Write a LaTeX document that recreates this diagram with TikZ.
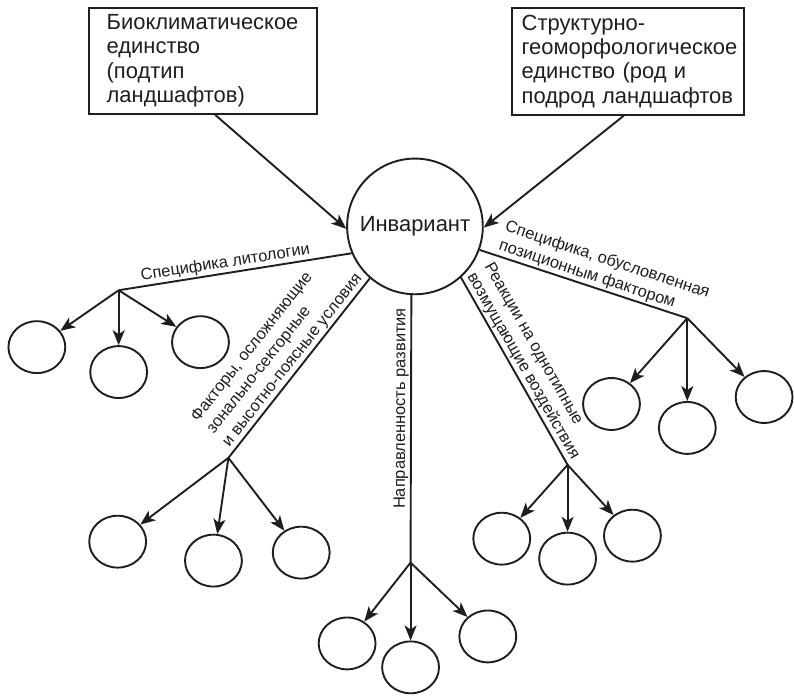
\documentclass[tikz,border=0pt]{standalone}
\usepackage{fontspec}
\setmainfont{Liberation Sans}
\usetikzlibrary{arrows.meta,shapes.geometric}
\hyphenpenalty=10000
\exhyphenpenalty=10000
\definecolor{ink}{RGB}{30,30,30}
\begin{document}
\begin{tikzpicture}[x=1pt,y=-1pt,
  every path/.style={line width=1.9pt, draw=ink},
  bigtext/.style={font=\fontsize{22}{24.3}\selectfont, text=ink},
  lbl/.style={font=\fontsize{16.5}{20}\selectfont, text=ink, inner sep=1.5pt, sloped, above},
  box/.style={draw=ink, line width=1.9pt, rectangle, anchor=north west, align=left, bigtext, inner ysep=0pt},
  small/.style={draw=ink, line width=1.9pt, ellipse, minimum width=57pt, minimum height=52pt, inner sep=0pt},
  arr/.style={-{Stealth[length=15pt,width=12pt,inset=4pt]}, line width=1.9pt},
  branch/.style={line width=1.9pt}]
\useasboundingbox (0,0) rectangle (794,695);
\fill[white] (0,0) rectangle (794,695);

\node[box, text width=193pt, inner xsep=18pt, minimum height=106pt] (b1) at (87,6)
  {Биоклиматическое\\единство\\(подтип\\ландшафтов)};
\node[box, text width=213pt, inner xsep=10pt, minimum height=107pt] (b2) at (511,6)
  {Структурно-\\геоморфологическое\\единство (род~и\\подрод~ландшафтов};

\node[circle, draw=ink, line width=1.9pt, minimum size=136pt, inner sep=0pt, bigtext] (inv) at (415,226) {Инвариант};

\draw[arr] ([xshift=12pt]b1.south) -- (inv.182);
\draw[arr] ([xshift=-4pt]b2.south) -- (inv.359);

% junctions
\coordinate (jA) at (118,290);
\coordinate (jB) at (228,458);
\coordinate (jC) at (410.6,563);
\coordinate (jD) at (568,465);
\coordinate (jE) at (688,318);

% branches
\draw[branch] (jA) -- node[lbl, pos=0.465] {Специфика литологии} (inv.203);
\draw[branch] (jB) -- node[lbl, pos=0.51, align=left] {Факторы, осложняющие\\зонально-секторные\\и высотно-поясные условия} (inv.229);
\draw[branch] (jC) -- node[lbl, pos=0.576] {Направленность развития} (inv.267);
\draw[branch] (inv.312) -- node[lbl, pos=0.5, align=left] {Реакции на однотипные\\возмущающие воздействия} (jD);
\draw[branch] (inv.340) -- node[lbl, pos=0.57, align=left] {Специфика, обусловленная\\позиционным фактором} (jE);

% small circles
\node[small] (a1) at (36,347) {};
\node[small] (a2) at (118,372) {};
\node[small] (a3) at (200,342) {};
\node[small] (c1) at (117,542) {};
\node[small] (c2) at (213,561) {};
\node[small] (c3) at (301,553) {};
\node[small] (d1) at (347,644) {};
\node[small] (d2) at (410.6,668) {};
\node[small] (d3) at (488,637) {};
\node[small] (e1) at (502,539) {};
\node[small] (e2) at (568,559) {};
\node[small] (e3) at (633,536) {};
\node[small] (f1) at (612,404) {};
\node[small] (f2) at (688,428) {};
\node[small] (f3) at (765,397) {};

\foreach \j/\g in {jA/a, jB/c, jC/d, jD/e, jE/f}{
  \draw[arr] (\j) -- (\g1);
  \draw[arr] (\j) -- (\g2);
  \draw[arr] (\j) -- (\g3);
}
\end{tikzpicture}
\end{document}
